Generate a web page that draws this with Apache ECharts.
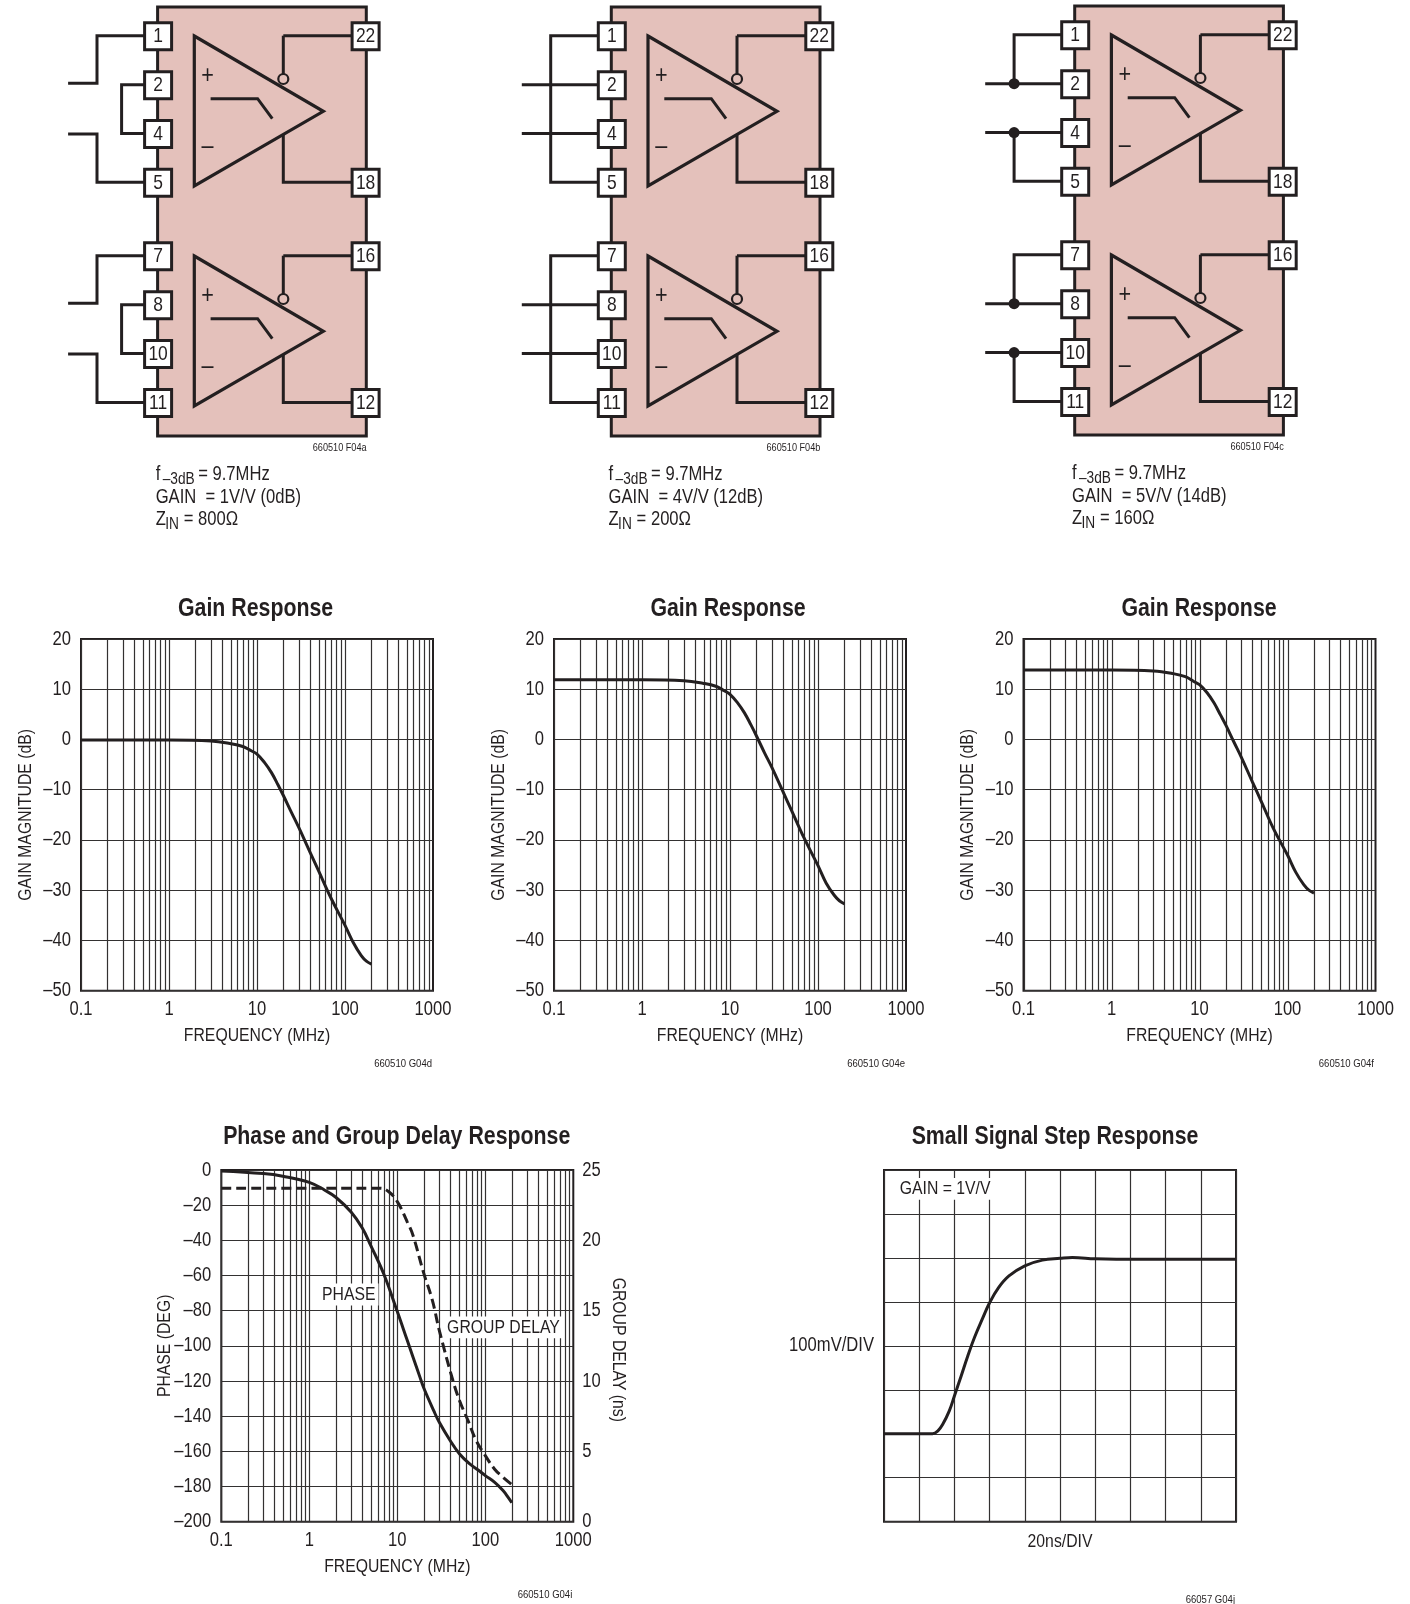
<!DOCTYPE html>
<html><head><meta charset="utf-8">
<style>html,body{margin:0;padding:0;background:#fff}#c{width:1410px;height:1604px}</style>
<script src="https://cdn.jsdelivr.net/npm/echarts@6/dist/echarts.min.js"></script>
</head><body><div id="c"></div>
<script>
// ---- data ----
const gainFreqs = [0.1,1,3,4.9,6.9,8.6,10,12.2,14.6,17.3,20,24.6,30,40,50,69,100,124,153,175,200];
const gainA = [-0.1,-0.1,-0.3,-0.8,-1.4,-2.25,-2.9,-4.6,-6.6,-9,-11.2,-14.5,-17.6,-22.4,-26.1,-31.5,-37,-40.4,-43,-44.1,-44.7];
const gainB = [11.9,11.9,11.7,11.2,10.6,9.7,9,7.3,5.3,2.9,0.7,-2.6,-5.6,-10.4,-14.1,-19.5,-25.1,-28.6,-31,-32.1,-32.7];
const gainC = [13.85,13.85,13.65,13.15,12.5,11.55,10.9,9.3,7.3,4.9,2.8,-0.5,-3.6,-8.5,-12.2,-17.7,-23,-26.4,-28.9,-30,-30.6];
const phaseFreqs = [0.1,0.3,0.5,1,1.5,2,3,4,5,7,10,13,15,18,20,26,30,40,51,66,83,100,127,159,181,200];
const phaseDeg = [-0.5,-2,-3.5,-7,-11.5,-15.5,-24,-33,-43,-59,-80.5,-97,-106,-117.5,-124,-137,-143.5,-154,-161.5,-167,-170.6,-173.8,-177.5,-182.3,-186,-189.2];
const delayFreqs = [0.1,1,3,6.4,8,10,13,15,20,25,30,43,51,63.5,79,100,127,159,200];
const delayNs = [23.7,23.7,23.7,23.7,23.45,22.75,21.3,20.4,17.65,15.75,13.6,10,8.6,7.2,5.75,4.7,3.75,3.16,2.64];
const stepTimeNs = [0,27.6,30.5,33.3,37.1,40,43.8,47.6,51.4,56.2,60,65,71,80,90,100,107,120,132,140,200];
const stepMv = [200,200,206,221,252,286,331,377,419,464,498,532,559,582,595,599,601,598,597,597,597];
const freqTickLabels = ['0.1','1','10','100','1000'];
const leftPins = ['1','2','4','5','7','8','10','11'];
const rightPins = ['22','18','16','12'];
const designNotes = [
  {gain:'GAIN  = 1V/V (0dB)', zin:'= 800Ω', id:'660510 F04a'},
  {gain:'GAIN  = 4V/V (12dB)', zin:'= 200Ω', id:'660510 F04b'},
  {gain:'GAIN  = 5V/V (14dB)', zin:'= 160Ω', id:'660510 F04c'}
];

// The reference uses a condensed face and none is installed: draw all text horizontally condensed.
(function(){
  const P=CanvasRenderingContext2D.prototype, ft=P.fillText, mt=P.measureText;
  const k=c=>/bold/.test(c.font)?0.82:0.83;
  P.fillText=function(s,x,y,m){const f=k(this);this.save();this.translate(x,y);this.scale(f,1);ft.call(this,s,0,0);this.restore();};
  P.measureText=function(s){const r=mt.call(this,s);return {width:r.width*k(this),actualBoundingBoxAscent:r.actualBoundingBoxAscent,actualBoundingBoxDescent:r.actualBoundingBoxDescent,actualBoundingBoxLeft:r.actualBoundingBoxLeft,actualBoundingBoxRight:r.actualBoundingBoxRight,fontBoundingBoxAscent:r.fontBoundingBoxAscent,fontBoundingBoxDescent:r.fontBoundingBoxDescent};};
})();

// ---- helpers ----
const INK='#231f20', PINK='#e4c1bb', FONT='"Liberation Sans",sans-serif';
const GRIDC='#333131';
const els=[];
function txt(x,y,s,size,align,opt){els.push(Object.assign({type:'text',x,y,silent:true,style:{text:s,fill:INK,font:(size)+'px '+FONT,textAlign:align||'left',textVerticalAlign:'middle'}},opt||{}));}
function poly(pts,w){els.push({type:'polyline',silent:true,shape:{points:pts},style:{stroke:INK,lineWidth:w||3,fill:null,lineJoin:'miter'}});}

function schematic(ox,oy,variant,note,tx){
  const Y=[35.7,84.7,133.6,182.3,255.7,304.7,353.6,402.5].map(v=>v+oy);
  const R=[35.7,182.3,255.7,402.5].map(v=>v+oy);
  const P=(x,y)=>[ox+x,y];
  els.push({type:'rect',silent:true,shape:{x:ox,y:7+oy,width:208.7,height:429},style:{fill:PINK,stroke:INK,lineWidth:3}});
  for(let k=0;k<2;k++){
    const d=k*220+oy;
    const i=k*4;
    // amplifier
    poly([P(125.7,R[k*2]),P(208,R[k*2])]);
    poly([P(125.7,R[k*2]),P(125.7,79+d)]);
    poly([P(125.7,135+d),P(125.7,R[k*2+1]),P(208,R[k*2+1])]);
    els.push({type:'polygon',silent:true,shape:{points:[P(36.7,36+d),P(165.7,111.3+d),P(36.7,186+d)]},style:{stroke:INK,lineWidth:3.2,fill:null,lineJoin:'miter'}});
    els.push({type:'circle',silent:true,shape:{cx:ox+125.7,cy:79+d,r:5},style:{fill:PINK,stroke:INK,lineWidth:2.2}});
    poly([P(53,98.7+d),P(100,98.7+d),P(114.7,118.7+d)],3);
    txt(ox+50,75.5+d,'+',26,'center');
    txt(ox+50,147+d,'–',26,'center');
    // input wiring
    const [a,b,c,e]=[Y[i],Y[i+1],Y[i+2],Y[i+3]];
    const W=-60.6, S=-89.5;
    if(variant==='a'){
      poly([P(0,a),P(W,a),P(W,b-1.5),P(S,b-1.5)]);
      poly([P(0,b),P(-36,b),P(-36,c),P(0,c)]);
      poly([P(S,c+.5),P(W,c+.5),P(W,e),P(0,e)]);
    } else if(variant==='b'){
      poly([P(0,a),P(W,a),P(W,e),P(0,e)]);
      poly([P(S,b),P(0,b)]); poly([P(S,c),P(0,c)]);
    } else {
      poly([P(0,a),P(W,a),P(W,b)]);
      poly([P(S,b),P(0,b)]); poly([P(S,c),P(0,c)]);
      poly([P(W,c),P(W,e),P(0,e)]);
      [b,c].forEach(y=>els.push({type:'circle',silent:true,shape:{cx:ox+W,cy:y,r:5.5},style:{fill:INK}}));
    }
  }
  leftPins.forEach((t,i)=>{
    els.push({type:'rect',silent:true,shape:{x:ox-13,y:Y[i]-13,width:27,height:27},style:{fill:'#fff',stroke:INK,lineWidth:3}});
    txt(ox+.5,Y[i]+.5,t,21,'center');
  });
  rightPins.forEach((t,i)=>{
    els.push({type:'rect',silent:true,shape:{x:ox+194.5,y:R[i]-13,width:27,height:27},style:{fill:'#fff',stroke:INK,lineWidth:3}});
    txt(ox+208,R[i]+.5,t,21,'center');
  });
  txt(ox+209,448+oy,note.id,11,'right');
  const t=tx;
  txt(t,474+oy,'f',20); txt(t+7,479+oy,'–3dB',16.5); txt(t+42.5,474+oy,'= 9.7MHz',20);
  txt(t,497+oy,note.gain,20);
  txt(t,519+oy,'Z',20); txt(t+9.5,524+oy,'IN',16.5); txt(t+28,519+oy,note.zin,20);
}
schematic(157.6,0,'a',designNotes[0],155.7);
schematic(611.3,0,'b',designNotes[1],608.6);
schematic(1074.7,-1,'c',designNotes[2],1072);

txt(432,1064,'660510 G04d',11.5,'right');
txt(905,1064,'660510 G04e',11.5,'right');
txt(1374,1064,'660510 G04f',11.5,'right');
txt(572.3,1595,'660510 G04i',11.5,'right');
txt(1235,1600,'66057 G04j',11.5,'right');

// log-decade gridline frequencies 
const decadeMults=[1,2,3,4,5,6,7,8,9];
const logGridFreqs=[];
[0.1,1,10,100].forEach(d=>decadeMults.forEach(m=>logGridFreqs.push(+(d*m).toPrecision(3))));

const grids=[],xAxes=[],yAxes=[],series=[],titles=[];
const labelStyle={color:INK,fontFamily:FONT,fontSize:20};
const nameStyle={color:INK,fontFamily:FONT,fontSize:19};
const splitY={show:true,lineStyle:{color:GRIDC,width:1.2}};
const dashText=v=>String(v).replace('-','–');

function addTitle(text,cx,cy){
  titles.push({text,left:cx,top:cy,padding:0,textAlign:'center',textVerticalAlign:'middle',
    textStyle:{color:INK,fontFamily:FONT,fontSize:26,fontWeight:'bold'}});
}
function addLogGrid(left,top,yMin,yMax,yInt,yName,yGap){
  const g=grids.length;
  grids.push({left,top,width:352,height:351.7,show:true,borderColor:INK,borderWidth:2,backgroundColor:'#fff',containLabel:false});
  xAxes.push({gridIndex:g,type:'log',logBase:10,min:0.1,max:1000,position:'bottom',
    axisLine:{show:false},axisTick:{show:false},splitLine:{show:false},minorSplitLine:{show:false},
    axisLabel:Object.assign({margin:10,showMinLabel:true,showMaxLabel:true,
      formatter:v=>freqTickLabels.find(t=>Math.abs(Math.log10(+t)-Math.log10(v))<1e-6)||''},labelStyle),
    name:'FREQUENCY (MHz)',nameLocation:'middle',nameGap:37,nameMoveOverlap:false,nameTextStyle:nameStyle});
  const yi=yAxes.length;
  yAxes.push({gridIndex:g,type:'value',min:yMin,max:yMax,interval:yInt,position:'left',
    axisLine:{show:false},axisTick:{show:false},splitLine:splitY,
    axisLabel:Object.assign({margin:10,formatter:dashText},labelStyle),
    name:yName,nameLocation:'middle',nameGap:yGap,nameMoveOverlap:false,nameTextStyle:nameStyle});
  series.push({type:'custom',xAxisIndex:g,yAxisIndex:yi,z:1,silent:true,clip:false,
    data:logGridFreqs.map(f=>[f,yMin]),encode:{x:0,y:1},
    renderItem:(p,api)=>{
      const a=api.coord([api.value(0),yMin]),b=api.coord([api.value(0),yMax]);
      return {type:'line',shape:{x1:Math.round(a[0])+.5,y1:a[1],x2:Math.round(a[0])+.5,y2:b[1]},style:{stroke:GRIDC,lineWidth:1.2}};
    }});
  return {g,yi};
}
function curve(g,yi,xs,ys,opt){
  return Object.assign({type:'line',xAxisIndex:g,yAxisIndex:yi,z:5,silent:true,showSymbol:false,smooth:0.4,
    data:xs.map((x,i)=>[x,ys[i]]),lineStyle:{color:INK,width:3},itemStyle:{color:INK}},opt||{});
}
function annot(g,yi,x,y,text,pad){
  series.push({type:'scatter',xAxisIndex:g,yAxisIndex:yi,z:3,silent:true,symbolSize:1,itemStyle:{color:'rgba(0,0,0,0)',opacity:1},
    data:[[x,y,text]],label:{show:true,position:'inside',formatter:p=>p.value[2],color:INK,fontFamily:FONT,fontSize:19,backgroundColor:'#fff',padding:pad||[3,3,3,3]}});
}

[[81,gainA,255.6],[554,gainB,728],[1023.5,gainC,1199]].forEach(([left,vals,cx])=>{
  addTitle('Gain Response',cx,609);
  const {g,yi}=addLogGrid(left,639,-50,20,10,'GAIN MAGNITUDE (dB)',47.5);
  series.push(curve(g,yi,gainFreqs,vals));
});

// phase + group delay
addTitle('Phase and Group Delay Response',396.7,1137);
{
  const {g,yi}=addLogGrid(221.3,1170,-200,0,20,'PHASE (DEG)',49);
  const yr=yAxes.length;
  yAxes.push({gridIndex:g,type:'value',min:0,max:25,interval:5,position:'right',
    axisLine:{show:false},axisTick:{show:false},splitLine:{show:false},
    axisLabel:Object.assign({margin:9},labelStyle),
    name:'GROUP DELAY (ns)',nameLocation:'middle',nameRotate:-90,nameGap:37,nameMoveOverlap:false,
    nameTextStyle:Object.assign({padding:[0,0,0,8]},nameStyle)});
  annot(g,yi,2.81,-70.8,'PHASE');
  annot(g,yi,161,-89.5,'GROUP DELAY');
  series.push(curve(g,yi,phaseFreqs,phaseDeg));
  series.push(curve(g,yr,delayFreqs,delayNs,{lineStyle:{color:INK,width:3,type:[10,5]}}));
}

// step response
addTitle('Small Signal Step Response',1055,1137);
{
  const g=grids.length;
  grids.push({left:884,top:1170,width:352,height:351.7,show:true,borderColor:INK,borderWidth:2,backgroundColor:'#fff'});
  xAxes.push({gridIndex:g,type:'value',min:0,max:200,interval:20,axisLine:{show:false},axisTick:{show:false},axisLabel:{show:false},
    splitLine:splitY,name:'20ns/DIV',nameLocation:'middle',nameGap:12,nameMoveOverlap:false,nameTextStyle:nameStyle});
  const yi=yAxes.length;
  yAxes.push({gridIndex:g,type:'value',min:0,max:800,interval:100,axisLine:{show:false},axisTick:{show:false},axisLabel:{show:false},
    splitLine:splitY,name:'100mV/DIV',nameLocation:'middle',nameRotate:0,nameGap:10,nameMoveOverlap:false,
    nameTextStyle:Object.assign({padding:[6,0,0,0]},nameStyle,{fontSize:20})});
  annot(g,yi,34.7,757,'GAIN = 1V/V');
  series.push(curve(g,yi,stepTimeNs,stepMv));
}

const chart=echarts.init(document.getElementById('c'),null,{renderer:'canvas'});
chart.setOption({animation:false,backgroundColor:'#fff',title:titles,grid:grids,xAxis:xAxes,yAxis:yAxes,series,graphic:{elements:els},tooltip:{show:false},legend:{show:false}});
</script></body></html>
